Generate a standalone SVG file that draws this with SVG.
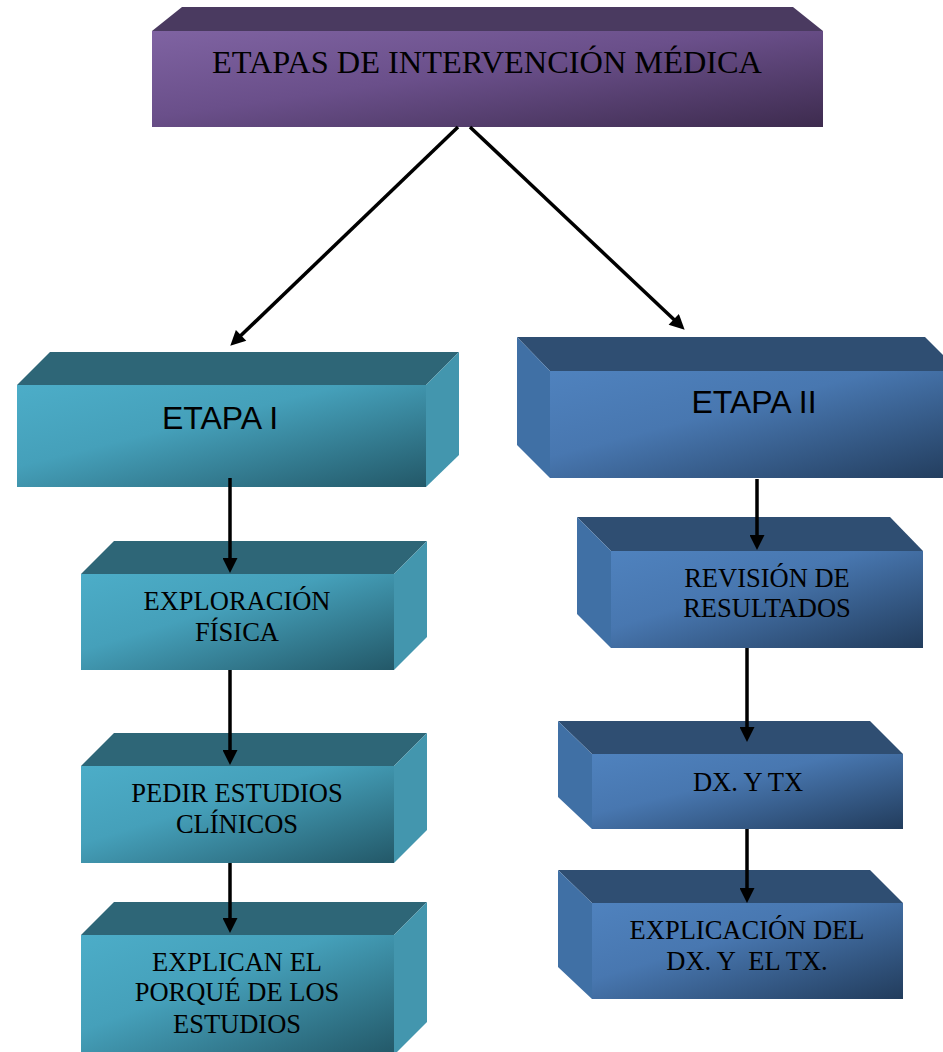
<svg xmlns="http://www.w3.org/2000/svg" width="943" height="1052" viewBox="0 0 943 1052">
<defs>
<linearGradient id="gPurple" x1="0" y1="0" x2="1" y2="1">
<stop offset="0" stop-color="#7F63A2"/>
<stop offset="0.45" stop-color="#6A4F8A"/>
<stop offset="1" stop-color="#3D2B4E"/>
</linearGradient>
<linearGradient id="gTeal" x1="0" y1="0" x2="1" y2="1">
<stop offset="0" stop-color="#4CADC8"/>
<stop offset="0.4" stop-color="#45A0BA"/>
<stop offset="1" stop-color="#235868"/>
</linearGradient>
<linearGradient id="gBlue" x1="0" y1="0" x2="1" y2="1">
<stop offset="0" stop-color="#4F82BE"/>
<stop offset="0.4" stop-color="#4877B0"/>
<stop offset="1" stop-color="#223C5C"/>
</linearGradient>
<marker id="arrow" viewBox="0 0 10 10" refX="6" refY="5" markerWidth="16" markerHeight="15" markerUnits="userSpaceOnUse" orient="auto">
<path d="M0,0 L10,5 L0,10 z" fill="#000"/>
</marker>
</defs>
<style>
.ptop{fill:#4A3A60}
.pfront{fill:url(#gPurple)}
.ttop{fill:#2E6677}
.tside{fill:#4396AE}
.tfront{fill:url(#gTeal)}
.btop{fill:#2F4E72}
.bside{fill:#4070A5}
.bfront{fill:url(#gBlue)}
.serif{font-family:"Liberation Serif","Times New Roman",serif;fill:#000;text-anchor:middle;font-size:26.5px}
.sans{font-family:"Liberation Sans",Arial,sans-serif;fill:#000;text-anchor:middle;font-size:32px}
.conn{stroke:#000;stroke-width:3.5;fill:none;marker-end:url(#arrow)}
</style>

<g id="node-title">
<polygon class="ptop" points="152,31 182,7 793,7 823,31"/>
<rect class="pfront" x="152" y="31" width="671" height="96"/>
<text class="serif" x="487" y="73" style="font-size:31px" textLength="550" lengthAdjust="spacingAndGlyphs">ETAPAS DE INTERVENCIÓN MÉDICA</text>
</g>

<g id="node-etapa1">
<polygon class="ttop" points="17,385 50,352 459,352 426,385"/>
<polygon class="tside" points="426,385 459,352 459,455 426,487"/>
<rect class="tfront" x="17" y="385" width="409" height="102"/>
<text class="sans" x="220" y="429">ETAPA I</text>
</g>

<g id="node-exploracion">
<polygon class="ttop" points="81,574 114,541 427,541 394,574"/>
<polygon class="tside" points="394,574 427,541 427,637 394,670"/>
<rect class="tfront" x="81" y="574" width="313" height="96"/>
<text class="serif" x="237" y="610">EXPLORACIÓN</text>
<text class="serif" x="237" y="641">FÍSICA</text>
</g>

<g id="node-pedir">
<polygon class="ttop" points="81,766 114,733 427,733 394,766"/>
<polygon class="tside" points="394,766 427,733 427,830 394,863"/>
<rect class="tfront" x="81" y="766" width="313" height="97"/>
<text class="serif" x="237" y="802">PEDIR ESTUDIOS</text>
<text class="serif" x="237" y="833">CLÍNICOS</text>
</g>

<g id="node-explican">
<polygon class="ttop" points="81,935 114,902 427,902 394,935"/>
<polygon class="tside" points="394,935 427,902 427,1022 394,1055"/>
<rect class="tfront" x="81" y="935" width="313" height="120"/>
<text class="serif" x="237" y="971">EXPLICAN EL</text>
<text class="serif" x="237" y="1001">PORQUÉ DE LOS</text>
<text class="serif" x="237" y="1033">ESTUDIOS</text>
</g>

<g id="node-etapa2">
<polygon class="btop" points="517,337 925,337 959,371 550,371"/>
<polygon class="bside" points="517,337 550,371 550,478 517,445"/>
<rect class="bfront" x="550" y="371" width="409" height="107"/>
<text class="sans" x="754" y="413">ETAPA II</text>
</g>

<g id="node-revision">
<polygon class="btop" points="577,517 890,517 923,551 611,551"/>
<polygon class="bside" points="577,517 611,551 611,648 577,614"/>
<rect class="bfront" x="611" y="551" width="312" height="97"/>
<text class="serif" x="767" y="587">REVISIÓN DE</text>
<text class="serif" x="767" y="617">RESULTADOS</text>
</g>

<g id="node-dxtx">
<polygon class="btop" points="558,721 870,721 903,754 592,754"/>
<polygon class="bside" points="558,721 592,754 592,829 558,797"/>
<rect class="bfront" x="592" y="754" width="311" height="75"/>
<text class="serif" x="748" y="791">DX. Y TX</text>
</g>

<g id="node-explicacion">
<polygon class="btop" points="558,870 870,870 903,903 592,903"/>
<polygon class="bside" points="558,870 592,903 592,999 558,967"/>
<rect class="bfront" x="592" y="903" width="311" height="96"/>
<text class="serif" x="747" y="939">EXPLICACIÓN DEL</text>
<text class="serif" x="747" y="970" xml:space="preserve">DX. Y  EL TX.</text>
</g>

<g id="connectors">
<line class="conn" x1="458" y1="127" x2="234.6" y2="341.6"/>
<line class="conn" x1="470" y1="127" x2="680.3" y2="325.6"/>
<line class="conn" x1="230" y1="478" x2="230" y2="567"/>
<line class="conn" x1="230" y1="670" x2="230" y2="759"/>
<line class="conn" x1="230" y1="863" x2="230" y2="927"/>
<line class="conn" x1="757" y1="479" x2="757" y2="544"/>
<line class="conn" x1="747" y1="648" x2="747" y2="736"/>
<line class="conn" x1="747" y1="829" x2="747" y2="897"/>
</g>
</svg>
